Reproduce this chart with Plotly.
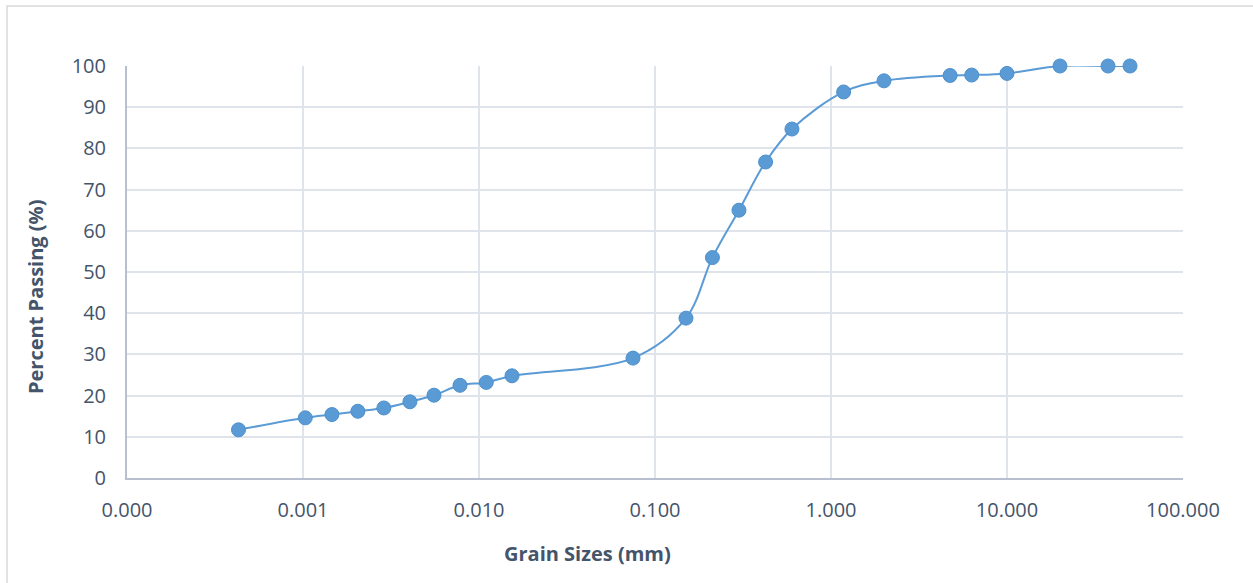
import plotly.graph_objects as go

# Grain size distribution (hydrometer + sieve analysis)
grain_size_mm = [0.00043, 0.00103, 0.00146, 0.00205, 0.00288, 0.00405, 0.00555,
                 0.0078, 0.011, 0.0154, 0.075, 0.15, 0.212, 0.3, 0.425, 0.6,
                 1.18, 2.0, 4.75, 6.3, 10.0, 20.0, 37.5, 50.0]
percent_passing = [11.7, 14.6, 15.4, 16.2, 17.0, 18.5, 20.1, 22.5, 23.2, 24.8,
                   29.1, 38.8, 53.5, 65.0, 76.7, 84.7, 93.7, 96.4, 97.7, 97.8,
                   98.2, 100.0, 100.0, 100.0]

x_tick_values = [0.0001, 0.001, 0.01, 0.1, 1, 10, 100]
x_tick_labels = ["0.000", "0.001", "0.010", "0.100", "1.000", "10.000", "100.000"]

BLUE = "#5b9bd5"
TEXT = "#44546a"
GRID = "#dfe3ea"
AXIS = "#b8c0cf"
FONT = "Open Sans, Lato, sans-serif"

fig = go.Figure()
fig.add_trace(go.Scatter(
    x=grain_size_mm,
    y=percent_passing,
    mode="lines+markers",
    line=dict(color=BLUE, width=2, shape="spline", smoothing=1.0),
    marker=dict(color=BLUE, size=14, line=dict(color="#4d8fcc", width=1)),
    cliponaxis=False,
    showlegend=False,
))

L, R, T, B = 127, 1183, 66, 478
W, H = 1253, 583
pw, ph = R - L, B - T


def px_x(px):
    return (px - L) / pw


def px_y(py):
    return (B - py) / ph


fig.update_layout(
    width=W, height=H,
    margin=dict(l=L, r=W - R, t=T, b=H - B),
    paper_bgcolor="white",
    plot_bgcolor="white",
    font=dict(family=FONT, color=TEXT, size=20),
    xaxis=dict(
        type="log",
        range=[-4, 2],
        tickvals=x_tick_values,
        ticktext=x_tick_labels,
        showgrid=True, gridcolor=GRID, gridwidth=2,
        showline=True, linecolor=AXIS, linewidth=2,
        ticks="", ticklabelstandoff=13,
        tickfont=dict(size=20, color=TEXT),
        zeroline=False,
    ),
    yaxis=dict(
        range=[0, 100],
        dtick=10,
        showgrid=True, gridcolor=GRID, gridwidth=2,
        showline=True, linecolor=AXIS, linewidth=2,
        ticks="", ticklabelstandoff=15,
        tickfont=dict(size=20, color=TEXT),
        zeroline=False,
    ),
    annotations=[
        dict(text="<b>Grain Sizes (mm)</b>", xref="paper", yref="paper",
             x=px_x(587), y=px_y(553), xanchor="center", yanchor="middle",
             showarrow=False, font=dict(size=20, color=TEXT)),
        dict(text="<b>Percent Passing (%)</b>", xref="paper", yref="paper",
             x=px_x(35), y=px_y(297), xanchor="center", yanchor="middle",
             textangle=-90, showarrow=False, font=dict(size=20, color=TEXT)),
    ],
    shapes=[dict(
        type="rect", xref="paper", yref="paper",
        x0=px_x(7), x1=px_x(W + 5),
        y0=px_y(H + 5), y1=px_y(6),
        line=dict(color="#d9d9d9", width=1.5),
        fillcolor="rgba(0,0,0,0)", layer="below",
    )],
)

fig.write_html("out.html")
